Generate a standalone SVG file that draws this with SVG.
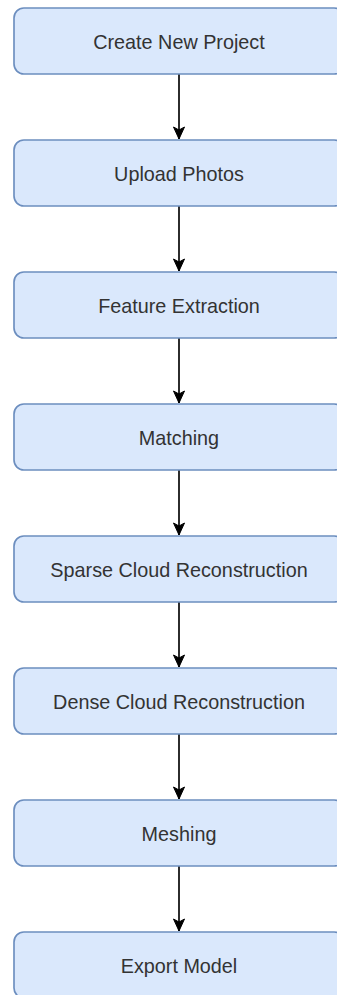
<svg xmlns="http://www.w3.org/2000/svg" width="337" height="995" viewBox="0 0 337 995">
<defs>
<style>
.box{fill:#dae8fc;stroke:#6c8ebf;stroke-width:1.65}
.lbl{font-family:"Liberation Sans",Arial,sans-serif;font-size:19.8px;fill:#333333;text-anchor:middle}
.edge{stroke:#000000;stroke-width:1.65;fill:none}
</style>
<marker id="arr" markerUnits="userSpaceOnUse" markerWidth="14" markerHeight="14" viewBox="0 0 14 14" refX="13" refY="7" orient="auto">
<path d="M1,1.5 L13,7 L1,12.5 L4,7 Z" fill="#000000" stroke="#000000" stroke-width="1"/>
</marker>
</defs>
<rect width="337" height="995" fill="#ffffff"/>
<g id="connectors">
<path class="edge" d="M179,74 L179,139" marker-end="url(#arr)"/>
<path class="edge" d="M179,206 L179,271" marker-end="url(#arr)"/>
<path class="edge" d="M179,338 L179,403" marker-end="url(#arr)"/>
<path class="edge" d="M179,470 L179,535" marker-end="url(#arr)"/>
<path class="edge" d="M179,602 L179,667" marker-end="url(#arr)"/>
<path class="edge" d="M179,734 L179,799" marker-end="url(#arr)"/>
<path class="edge" d="M179,866 L179,931" marker-end="url(#arr)"/>
</g>
<g id="n1"><rect class="box" x="14" y="8" width="330" height="66" rx="9.9"/><text class="lbl" x="179" y="49">Create New Project</text></g>
<g id="n2"><rect class="box" x="14" y="140" width="330" height="66" rx="9.9"/><text class="lbl" x="179" y="181">Upload Photos</text></g>
<g id="n3"><rect class="box" x="14" y="272" width="330" height="66" rx="9.9"/><text class="lbl" x="179" y="313">Feature Extraction</text></g>
<g id="n4"><rect class="box" x="14" y="404" width="330" height="66" rx="9.9"/><text class="lbl" x="179" y="445">Matching</text></g>
<g id="n5"><rect class="box" x="14" y="536" width="330" height="66" rx="9.9"/><text class="lbl" x="179" y="577">Sparse Cloud Reconstruction</text></g>
<g id="n6"><rect class="box" x="14" y="668" width="330" height="66" rx="9.9"/><text class="lbl" x="179" y="709">Dense Cloud Reconstruction</text></g>
<g id="n7"><rect class="box" x="14" y="800" width="330" height="66" rx="9.9"/><text class="lbl" x="179" y="841">Meshing</text></g>
<g id="n8"><rect class="box" x="14" y="932" width="330" height="66" rx="9.9"/><text class="lbl" x="179" y="973">Export Model</text></g>
</svg>
